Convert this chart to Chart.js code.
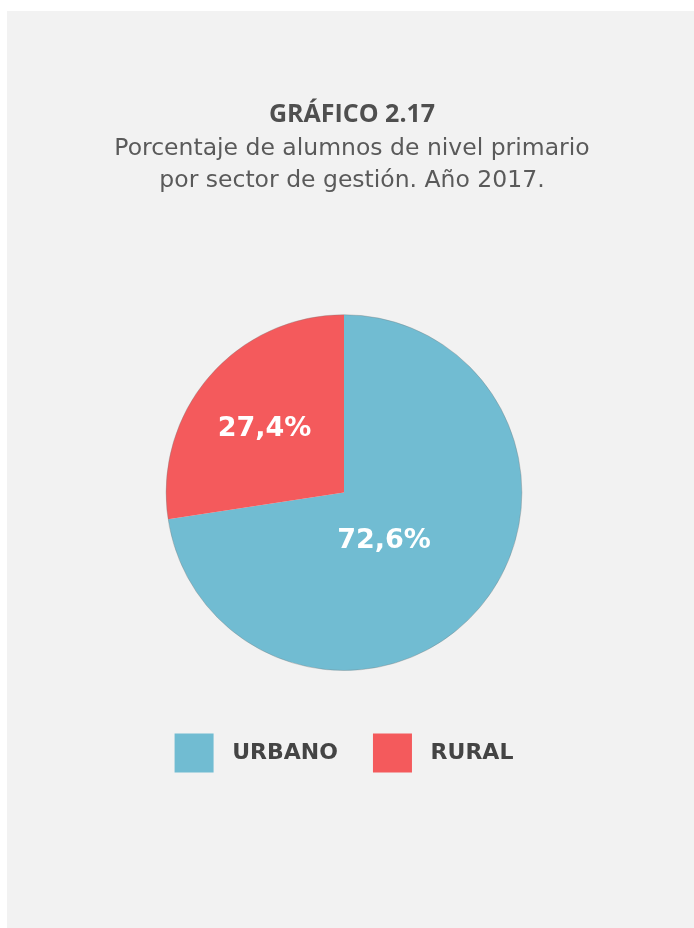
<!DOCTYPE html>
<html>
<head>
<meta charset="utf-8">
<script src="https://cdn.jsdelivr.net/npm/chart.js@4"></script>
<style>
  html, body { margin: 0; padding: 0; background: #ffffff; width: 694px; height: 928px; overflow: hidden; }
  #panel { position: absolute; left: 7px; top: 11px; right: 0; bottom: 0; background: #f2f2f2; }
  #c { position: absolute; left: 0; top: 0; }
</style>
</head>
<body>
<div id="panel"></div>
<canvas id="c" width="694" height="928"></canvas>
<script>
const titleText = 'GRÁFICO 2.17';
const subtitleLines = ['Porcentaje de alumnos de nivel primario', 'por sector de gestión. Año 2017.'];
const categories = ['URBANO', 'RURAL'];
const values = [72.6, 27.4];
const colors = ['#71bcd2', '#f45a5c'];

const fmt = v => v.toFixed(1).replace('.', ',') + '%';

const shiftTitles = {
  id: 'shiftTitles',
  afterLayout(chart, args, opts) {
    chart.boxes.forEach(b => {
      if (b.position === 'top') { b.left += opts.dx; b.right += opts.dx; }
    });
  }
};

const pieExtras = {
  id: 'pieExtras',
  afterDatasetsDraw(chart, args, opts) {
    const ctx = chart.ctx;
    const meta = chart.getDatasetMeta(0);
    const arcs = meta.data;
    if (!arcs.length) return;
    const a0 = arcs[0];
    ctx.save();
    ctx.beginPath();
    ctx.arc(a0.x, a0.y, a0.outerRadius, 0, Math.PI * 2);
    ctx.strokeStyle = opts.outline;
    ctx.lineWidth = 1;
    ctx.stroke();
    ctx.font = opts.font;
    ctx.fillStyle = opts.color;
    ctx.textAlign = 'center';
    ctx.textBaseline = 'middle';
    arcs.forEach((arc, i) => {
      const p = opts.placement[i];
      const mid = (arc.startAngle + arc.endAngle) / 2 + p.da * Math.PI / 180;
      const r = arc.outerRadius * p.r;
      ctx.fillText(fmt(values[i]), arc.x + Math.cos(mid) * r, arc.y + Math.sin(mid) * r);
    });
    ctx.restore();
  }
};

const legendTextColor = '#444444';

new Chart(document.getElementById('c'), {
  type: 'pie',
  data: {
    labels: categories,
    datasets: [{
      data: values,
      backgroundColor: colors,
      borderWidth: 0
    }]
  },
  options: {
    responsive: false,
    animation: false,
    layout: { padding: { left: 0, right: 6, top: 0, bottom: 145.5 } },
    plugins: {
      tooltip: { enabled: false },
      title: {
        display: true,
        text: titleText,
        color: '#4f4f4f',
        font: { family: 'Open Sans', weight: 'bold', size: 25, lineHeight: 1.2 },
        padding: { top: 100, bottom: 0 }
      },
      subtitle: {
        display: true,
        text: subtitleLines,
        color: '#5a5a5a',
        font: { family: 'DejaVu Sans', weight: 'normal', size: 23.5, lineHeight: '32px' },
        padding: { top: 3, bottom: 117.7 }
      },
      legend: {
        display: true,
        position: 'bottom',
        title: { display: true, text: '', font: { size: 10, lineHeight: 1 }, padding: { top: 18, bottom: 0 } },
        labels: {
          boxWidth: 39,
          boxHeight: 39,
          padding: 35,
          color: legendTextColor,
          font: { family: 'DejaVu Sans', weight: 'bold', size: 22 },
          generateLabels(chart) {
            return categories.map((c, i) => ({
              text: ' ' + c,
              fillStyle: colors[i],
              strokeStyle: colors[i],
              fontColor: legendTextColor,
              lineWidth: 0,
              hidden: false,
              index: i
            }));
          }
        }
      },
      shiftTitles: { dx: 8 },
      pieExtras: {
        outline: 'rgba(120,120,120,0.35)',
        font: 'bold 27px "DejaVu Sans"',
        color: '#ffffff',
        placement: [{ r: 0.351, da: 9.5 }, { r: 0.571, da: -2.1 }]
      }
    }
  },
  plugins: [shiftTitles, pieExtras]
});
</script>
</body>
</html>
